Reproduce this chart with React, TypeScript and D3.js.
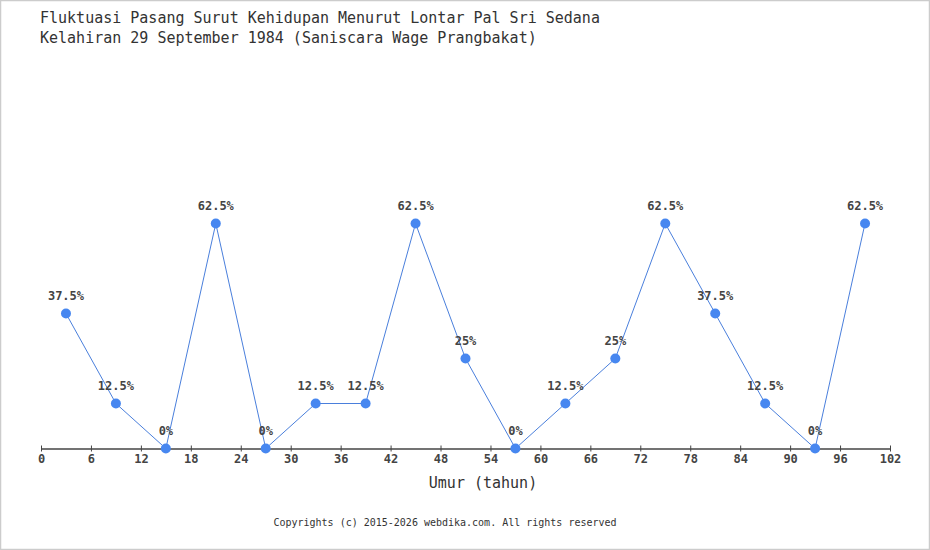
import React, { useEffect, useRef } from "react";
import * as d3 from "d3";

const ages = [3, 9, 15, 21, 27, 33, 39, 45, 51, 57, 63, 69, 75, 81, 87, 93, 99];
const values = [37.5, 12.5, 0, 62.5, 0, 12.5, 12.5, 62.5, 25, 0, 12.5, 25, 62.5, 37.5, 12.5, 0, 62.5];
const xTicks = [0, 6, 12, 18, 24, 30, 36, 42, 48, 54, 60, 66, 72, 78, 84, 90, 96, 102];
const titleLines = [
  "Fluktuasi Pasang Surut Kehidupan Menurut Lontar Pal Sri Sedana",
  "Kelahiran 29 September 1984 (Saniscara Wage Prangbakat)",
];
const xLabel = "Umur (tahun)";
const footer = "Copyrights (c) 2015-2026 webdika.com. All rights reserved";

const W = 930;
const H = 550;
const FONT = "'DejaVu Sans Mono', 'Liberation Mono', monospace";

export default function App() {
  const ref = useRef<SVGSVGElement>(null);

  useEffect(() => {
    const svg = d3.select(ref.current);
    svg.selectAll("*").remove();

    const x = d3.scaleLinear().domain([0, 102]).range([41, 890]);
    const y = d3.scaleLinear().domain([0, 100]).range([448.5, 88.5]);

    svg.append("rect").attr("x", 0.5).attr("y", 0.5).attr("width", W - 1).attr("height", H - 1)
      .attr("fill", "#ffffff").attr("stroke", "#cccccc").attr("stroke-width", 1.5);

    svg.selectAll("text.title").data(titleLines).enter().append("text")
      .attr("x", 40).attr("y", (_d, i) => 23 + i * 20)
      .attr("font-family", FONT).attr("font-size", 15).attr("fill", "#333333")
      .text((d) => d);

    const axis = d3.axisBottom(x).tickValues(xTicks).tickSize(3).tickSizeOuter(0).tickFormat(d3.format("d"));
    const g = svg.append("g").attr("transform", `translate(0,${y(0)})`).call(axis);
    g.select(".domain").attr("stroke", "#444444").attr("stroke-width", 1.5);
    g.selectAll(".tick line").attr("stroke", "#444444").attr("stroke-width", 1).attr("y1", -3).attr("y2", 3);
    g.selectAll(".tick text").attr("y", 6).attr("dy", "0.71em")
      .attr("font-family", FONT).attr("font-size", 12).attr("font-weight", "bold").attr("fill", "#444444");

    svg.append("text").attr("x", 483).attr("y", 488).attr("text-anchor", "middle")
      .attr("font-family", FONT).attr("font-size", 15).attr("font-weight", 500).attr("fill", "#333333")
      .text(xLabel);

    const pts = ages.map((a, i) => [a, values[i]] as [number, number]);
    const line = d3.line<[number, number]>().x((d) => x(d[0])).y((d) => y(d[1]));
    svg.append("path").attr("d", line(pts)).attr("fill", "none").attr("stroke", "#4a7fdc").attr("stroke-width", 1);

    svg.selectAll("circle.pt").data(pts).enter().append("circle")
      .attr("cx", (d) => x(d[0])).attr("cy", (d) => y(d[1])).attr("r", 5).attr("fill", "#4787f0");

    svg.selectAll("text.lbl").data(pts).enter().append("text")
      .attr("x", (d) => x(d[0])).attr("y", (d) => y(d[1]) - 14).attr("text-anchor", "middle")
      .attr("font-family", FONT).attr("font-size", 12).attr("font-weight", "bold").attr("fill", "#444444")
      .text((d) => `${d[1]}%`);

    svg.append("text").attr("x", 445).attr("y", 526).attr("text-anchor", "middle")
      .attr("font-family", FONT).attr("font-size", 10).attr("fill", "#333333")
      .text(footer);
  }, []);

  return (
    <svg ref={ref} width={W} height={H} style={{ position: "absolute", left: 0, top: 0 }} />
  );
}
